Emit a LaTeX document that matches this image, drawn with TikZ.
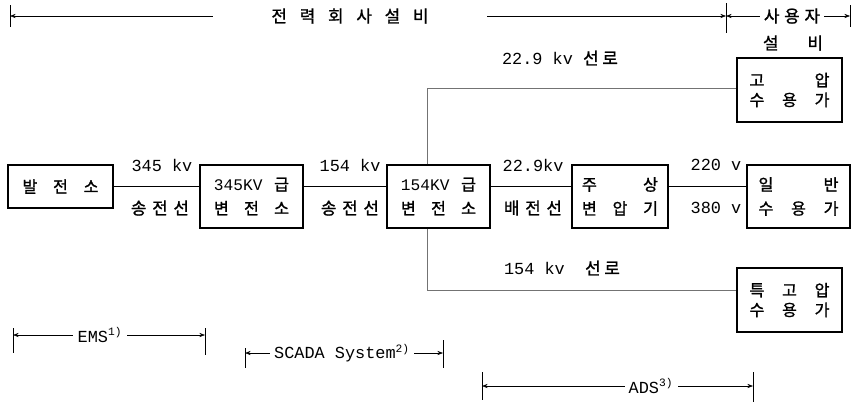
\documentclass[tikz,border=0pt]{standalone}
\usepackage{fontspec}
\setmainfont{Liberation Mono}
\newfontfamily\kr[FakeBold=1.2]{Noto Sans CJK KR}
\usetikzlibrary{arrows.meta,positioning,calc}

\begin{document}
\begin{tikzpicture}[x=0.025cm, y=-0.025cm,
    box/.style={draw, line width=0.9pt, align=left, inner sep=0pt, font=\fontsize{11.5}{17}\selectfont\kr},
    sbox/.style={box, font=\fontsize{11.5}{14}\selectfont\kr, minimum width=2.625cm, minimum height=1.6cm, text width=2.0cm},
    lbl/.style={font=\fontsize{12}{14}\selectfont},
    feed/.style={line width=0.7pt},
    tap/.style={thin, black!55},
    dim/.style={thin, {Stealth[length=4pt,width=3pt]}-{Stealth[length=4pt,width=3pt]}},
    gap/.style={fill=white, inner ysep=1pt, inner xsep=3pt, font=\fontsize{12}{14}\selectfont},
]
\useasboundingbox (0,0) rectangle (852,417);

% boxes
\node[box, minimum width=2.625cm, minimum height=1.075cm, text width=1.9cm] (plant) at (60.5,186.5) {발\hfill 전\hfill 소};
\node[box, minimum width=2.575cm, minimum height=1.575cm, text width=1.875cm] (sub345) at (251.5,196.5) {{\rmfamily\fontsize{11.5}{17}\selectfont 345KV}\hfill 급\\ 변\hfill 전\hfill 소};
\node[box, minimum width=2.575cm, minimum height=1.575cm, text width=1.875cm] (sub154) at (438.5,196.5) {{\rmfamily\fontsize{11.5}{17}\selectfont 154KV}\hfill 급\\ 변\hfill 전\hfill 소};
\node[box, minimum width=2.4cm, minimum height=1.575cm, text width=1.9cm] (pole) at (620,196.5) {주\hfill 상\\ 변\hfill 압\hfill 기};
\node[box, minimum width=2.575cm, minimum height=1.575cm, text width=2.0cm] (gencust) at (798.5,196.5) {일\hfill 반\\ 수\hfill 용\hfill 가};
\node[sbox] (hvcust) at (789.5,90) {고\hfill 압\\ 수\hfill 용\hfill 가};
\node[sbox] (ehvcust) at (789.5,300) {특\hfill 고\hfill 압\\ 수\hfill 용\hfill 가};

% feeders
\draw[feed] (plant.east) -- (plant.east -| sub345.west);
\draw[feed] (sub345.east |- plant.east) -- (sub154.west |- plant.east);
\draw[feed] (sub154.east |- plant.east) -- (pole.west |- plant.east);
\draw[feed] (pole.east |- plant.east) -- (gencust.west |- plant.east);

\node[lbl] (v345) at (162,165) {345 kv};
\node[lbl] (l345) at (160,208) {\kr\makebox[1.45cm]{송\hfill 전\hfill 선}};
\node[lbl] (v154) at (350,165) {154 kv};
\node[lbl] (l154) at (350,208) {\kr\makebox[1.45cm]{송\hfill 전\hfill 선}};
\node[lbl] (v229) at (533,165) {22.9kv};
\node[lbl] (ldist) at (533,208) {\kr\makebox[1.45cm]{배\hfill 전\hfill 선}};
\node[lbl] (v220) at (716,165) {220 v};
\node[lbl] (v380) at (716,208) {380 v};

% taps to large customers
\coordinate (tapup) at (427,88);
\coordinate (tapdn) at (427,290);
\draw[tap] (sub154.north -| tapup) -- (tapup) -- (tapup -| hvcust.west);
\draw[tap] (sub154.south -| tapdn) -- (tapdn) -- (tapdn -| ehvcust.west);
\node[lbl] (hvline) at (560,58) {22.9 kv {\kr 선 로}};
\node[lbl] (ehvline) at (562,268) {154 kv\ \ {\kr 선 로}};

% ownership spans
\draw (10,5) -- (10,27);
\draw (726,3) -- (726,33);
\draw (850,5) -- (850,27);
\draw[dim] (10,16) -- (726,16);
\draw[dim] (726,16) -- (850,16);
\node[gap, inner xsep=1.45cm] (utility) at (350,16) {\kr\makebox[3.925cm]{전\hfill 력\hfill 회\hfill 사\hfill 설\hfill 비}};
\node[gap] (user) at (792,16) {\kr\makebox[1.4cm]{사\hfill 용\hfill 자}};
\node[lbl] (user2) at (793,43) {\kr\makebox[1.5cm]{설\hfill 비}};

% control system spans
\draw (13,328) -- (13,353);
\draw (205,328) -- (205,355);
\draw[dim] (13,335) -- (205,335);
\node[gap] (ems) at (100,335) {EMS\textsuperscript{1)}};

\draw (245,348) -- (245,368);
\draw (443,340) -- (443,368);
\draw[dim] (245,353) -- (443,353);
\node[gap] (scada) at (342,353) {SCADA System\textsuperscript{2)}};

\draw (482,372) -- (482,400);
\draw (753,372) -- (753,402);
\draw[dim] (482,386) -- (753,386);
\node[gap] (ads) at (651,386) {ADS\textsuperscript{3)}};
\end{tikzpicture}
\end{document}
